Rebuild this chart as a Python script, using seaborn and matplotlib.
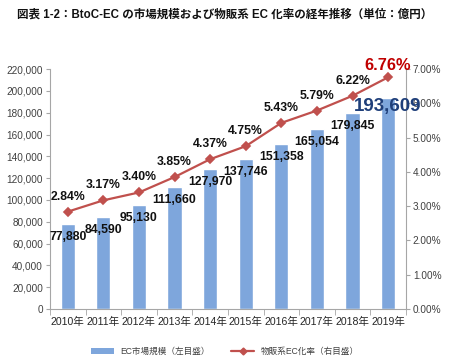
import matplotlib
matplotlib.use("Agg")
import matplotlib.pyplot as plt
import matplotlib.ticker as mticker
from matplotlib.lines import Line2D
from matplotlib.patches import Patch
import seaborn as sns
import pandas as pd

# data
years = ["2010年", "2011年", "2012年", "2013年", "2014年",
         "2015年", "2016年", "2017年", "2018年", "2019年"]
market_size = [77880, 84590, 95130, 111660, 127970,
               137746, 151358, 165054, 179845, 193609]
ec_rate = [2.84, 3.17, 3.40, 3.85, 4.37, 4.75, 5.43, 5.79, 6.22, 6.76]

title = "図表 1-2：BtoC-EC の市場規模および物販系 EC 化率の経年推移（単位：億円）"
bar_legend = "EC市場規模（左目盛）"
line_legend = "物販系EC化率（右目盛）"

bar_color = "#7EA6DC"
line_color = "#C0504D"
axis_color = "#A6A6A6"
tick_color = "#404040"

sns.set_style("white")
plt.rcParams['font.family'] = ['Liberation Sans', 'Noto Sans CJK JP']

df = pd.DataFrame({'year': years, 'size': market_size, 'rate': [r / 100 for r in ec_rate]})

fig = plt.figure(figsize=(4.5, 3.56), dpi=100)
ax = fig.add_axes([0.111, 0.132, 0.791, 0.674])

sns.barplot(data=df, x='year', y='size', color=bar_color, width=0.4,
            saturation=1, ax=ax)
ax.set_ylim(0, 220000)
ax.set_xlim(-0.5, len(years) - 0.5)
ax.yaxis.set_major_locator(mticker.MultipleLocator(20000))
ax.yaxis.set_major_formatter(mticker.FuncFormatter(lambda v, p: f"{int(v):,}"))
ax.set_xlabel("")
ax.set_ylabel("")

ax2 = ax.twinx()
sns.pointplot(data=df, x='year', y='rate', color=line_color, marker='D',
              markersize=4.5, linewidth=1.6, ax=ax2)
ax2.set_ylim(0, 0.07)
ax2.set_xlim(-0.5, len(years) - 0.5)
ax2.yaxis.set_major_locator(mticker.MultipleLocator(0.01))
ax2.yaxis.set_major_formatter(mticker.FuncFormatter(lambda v, p: f"{v * 100:.2f}%"))
ax2.set_ylabel("")

for a in (ax, ax2):
    for side in a.spines:
        a.spines[side].set_visible(False)
ax.spines['left'].set_visible(True)
ax.spines['left'].set_color(axis_color)
ax.spines['bottom'].set_visible(True)
ax.spines['bottom'].set_color(axis_color)
ax2.spines['right'].set_visible(True)
ax2.spines['right'].set_color(axis_color)

ax.tick_params(axis='y', length=3, color=axis_color, labelsize=7.2,
               labelcolor=tick_color, pad=2, left=True)
ax2.tick_params(axis='y', length=3, color=axis_color, labelsize=7.2,
                labelcolor=tick_color, pad=2, right=True)
ax.tick_params(axis='x', length=0, labelsize=7.6, labelcolor='#262626', pad=6)
ax.set_xticks([i + 0.5 for i in range(-1, len(years))], minor=True)
ax.tick_params(axis='x', which='minor', length=4, color=axis_color, bottom=True)

# bar value labels
for i, v in enumerate(market_size):
    if i == len(market_size) - 1:
        ax2.annotate(f"{v:,}", xy=(i, v / 220000 * 0.07), xytext=(0, -9),
                     textcoords='offset pixels', ha='center', va='center',
                     fontsize=13.5, fontweight='bold', color='#1F3F7A', zorder=5)
    else:
        ax.annotate(f"{v:,}", xy=(i, v), xytext=(0, -13), textcoords='offset pixels',
                    ha='center', va='center', fontsize=8.8, fontweight='bold',
                    color='#111111')

# rate labels
for i, r in enumerate(ec_rate):
    if i == len(ec_rate) - 1:
        ax2.annotate(f"{r:.2f}%", xy=(i, r / 100), xytext=(0, 12), textcoords='offset pixels',
                     ha='center', va='center', fontsize=11.8, fontweight='bold',
                     color='#C00000')
    else:
        ax2.annotate(f"{r:.2f}%", xy=(i, r / 100), xytext=(0, 15), textcoords='offset pixels',
                     ha='center', va='center', fontsize=8.8, fontweight='bold',
                     color='#111111')

fig.text(0.5, 0.96, title, ha='center', va='center', fontsize=8.3,
         fontweight='bold', color='#111111')

handles = [Patch(facecolor=bar_color, edgecolor='none'),
           Line2D([], [], color=line_color, marker='D', markersize=3.5, linewidth=1.6)]
fig.legend(handles, [bar_legend, line_legend], loc='center', bbox_to_anchor=(0.5, 0.012),
           ncol=2, frameon=False, fontsize=6.2, handlelength=2.6, handleheight=0.6,
           columnspacing=2.5, labelcolor='#404040')

fig.savefig("out.png", dpi=100)
